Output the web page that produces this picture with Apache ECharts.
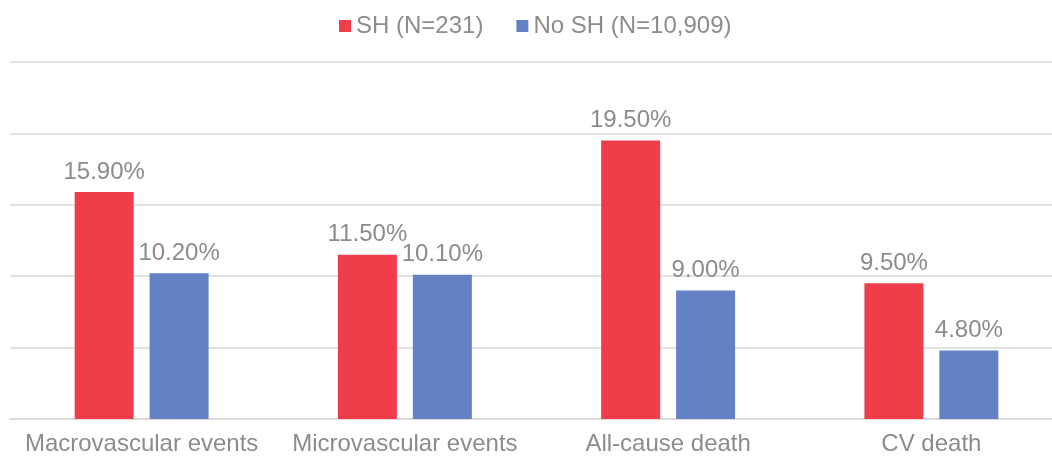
<!DOCTYPE html>
<html>
<head>
<meta charset="utf-8">
<script src="https://cdn.jsdelivr.net/npm/echarts@6/dist/echarts.min.js"></script>
<style>
  html, body { margin: 0; padding: 0; background: #fff; overflow: hidden; }
  #main { width: 1063px; height: 461px; }
</style>
</head>
<body>
<div id="main"></div>
<script>
const categories = ['Macrovascular events', 'Microvascular events', 'All-cause death', 'CV death'];
const shValues = [15.9, 11.5, 19.5, 9.5];
const noShValues = [10.2, 10.1, 9.0, 4.8];
const seriesNames = ['SH (N=231)', 'No SH (N=10,909)'];

const font = '"Liberation Sans", Arial, sans-serif';
const labelStyle = {
  show: true,
  position: 'top',
  distance: 8,
  color: '#8c8c8c',
  fontSize: 24,
  fontFamily: font,
  formatter: p => p.value.toFixed(2) + '%'
};

// plot area runs a little past the right edge of the window, as in the original
const chart = echarts.init(document.getElementById('main'));
chart.setOption({
  animation: false,
  textStyle: { fontFamily: font },
  legend: {
    top: 9,
    left: 334,
    itemWidth: 12,
    itemHeight: 12,
    itemGap: 33,
    icon: 'rect',
    textStyle: { color: '#8c8c8c', fontSize: 24, fontFamily: font },
    data: seriesNames
  },
  grid: { left: 10, right: 0, top: 62, height: 357, containLabel: false },
  xAxis: {
    type: 'category',
    data: categories,
    axisTick: { show: false },
    axisLine: { lineStyle: { color: '#d9d9d9', width: 1.5 } },
    axisLabel: { color: '#8c8c8c', fontSize: 24, fontFamily: font, margin: 13, interval: 0 }
  },
  yAxis: {
    type: 'value',
    min: 0,
    max: 25,
    interval: 5,
    axisLabel: { show: false },
    splitLine: { lineStyle: { color: '#d9d9d9', width: 1.5 } }
  },
  series: [
    {
      name: seriesNames[0],
      type: 'bar',
      data: shValues,
      barWidth: 59,
      barGap: '27%',
      itemStyle: { color: '#ef3e4a' },
      label: labelStyle
    },
    {
      name: seriesNames[1],
      type: 'bar',
      data: noShValues,
      barWidth: 59,
      itemStyle: { color: '#6381c4' },
      label: labelStyle
    }
  ]
});
</script>
</body>
</html>
